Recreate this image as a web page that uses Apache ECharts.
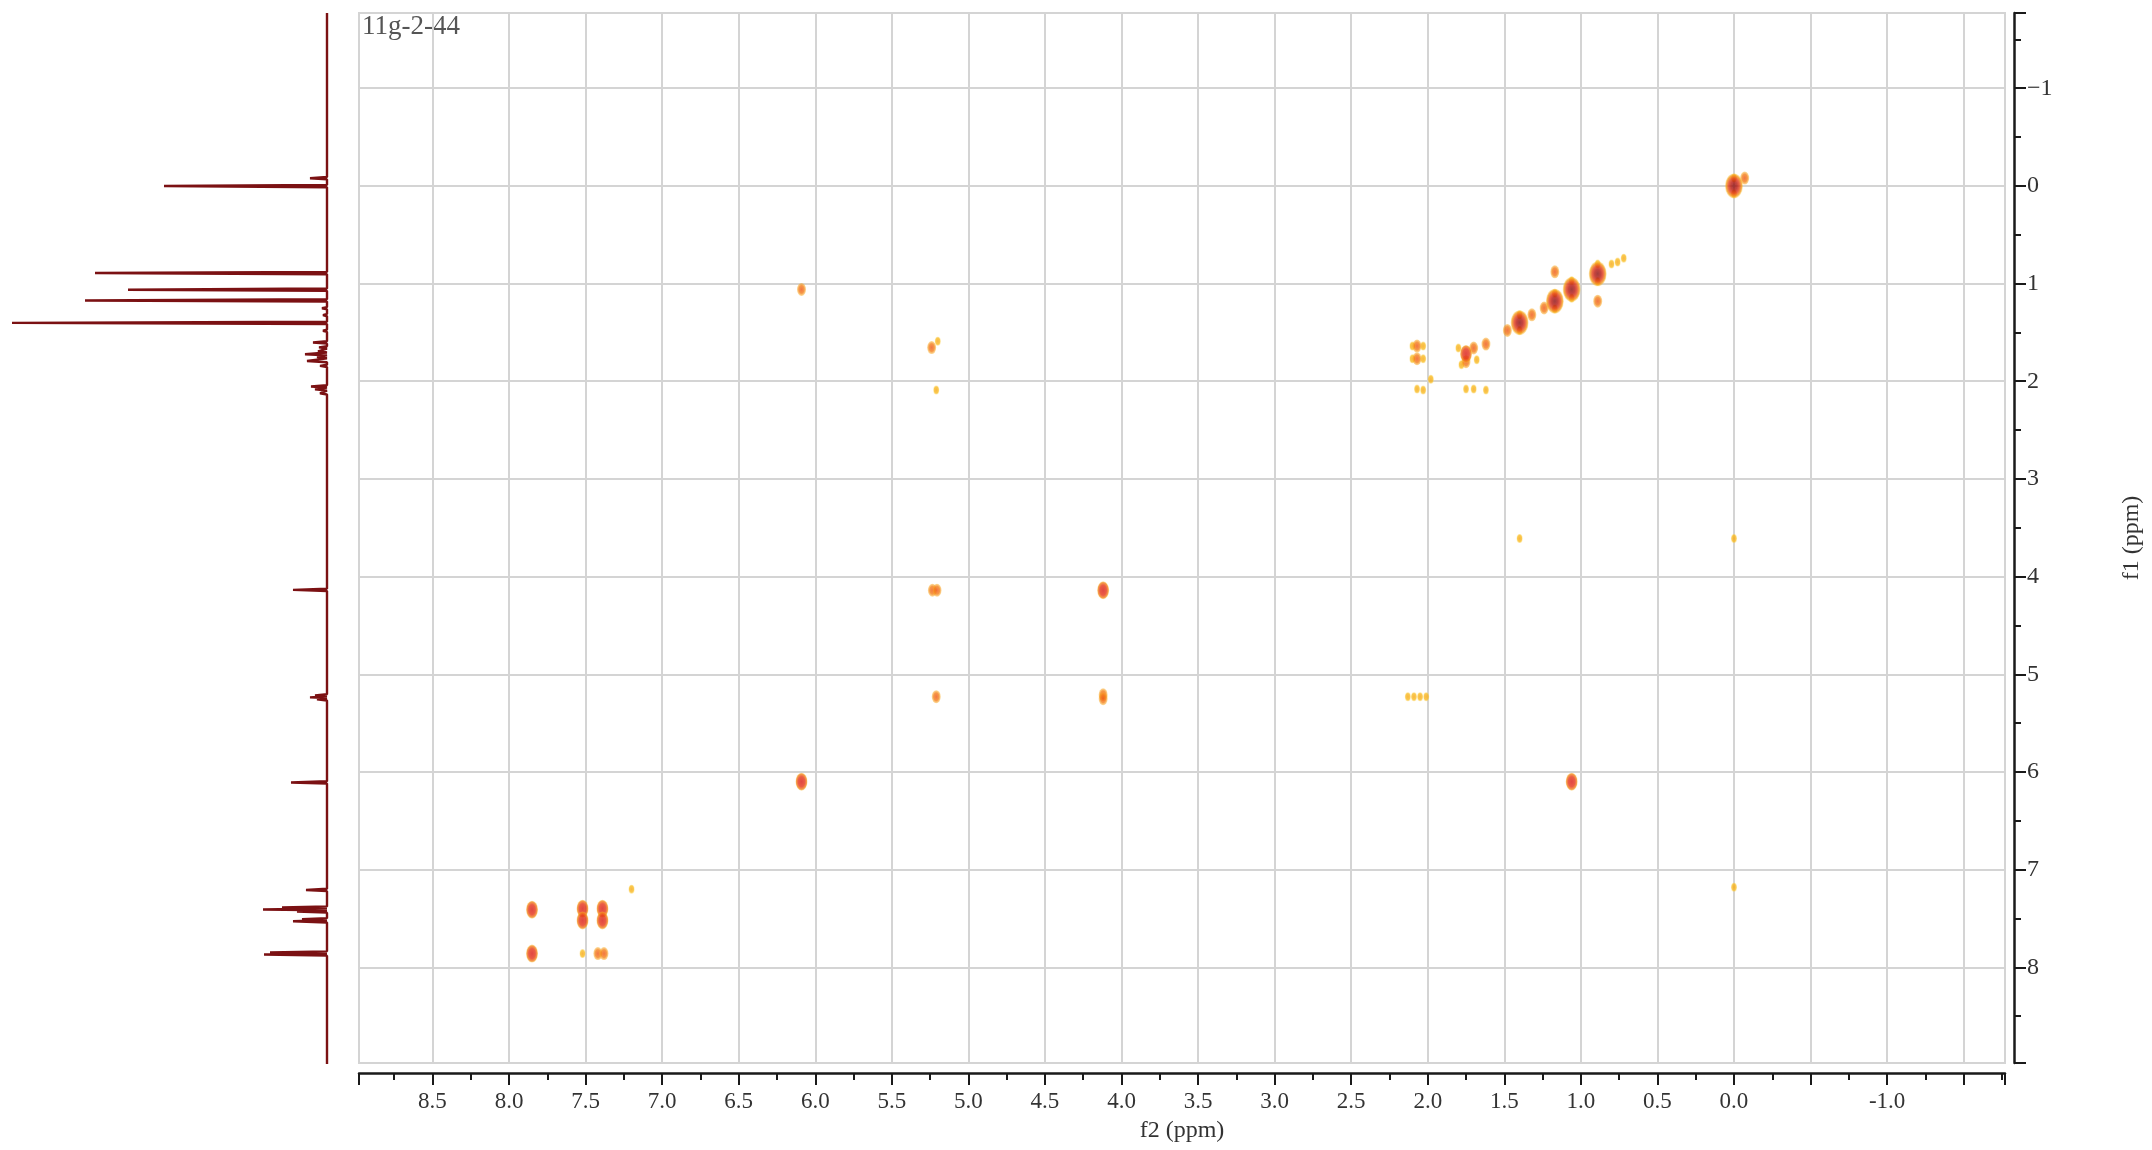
<!DOCTYPE html>
<html>
<head>
<meta charset="utf-8">
<title>11g-2-44 COSY</title>
<script src="https://cdn.jsdelivr.net/npm/echarts@6/dist/echarts.min.js"></script>
<style>
  html, body { margin: 0; padding: 0; background: #fff; }
  #cosy_charts { width: 2152px; height: 1150px; }
</style>
</head>
<body>
<div id="cosy_charts"></div>
<script>
// ppm window, same on f1 and f2
const ppmMin = -1.77;
const ppmMax = 8.98;

// 1H trace on the left: [ppm, height]
const protonPeaks = [
  [-0.08, 17], [0.00, 163], [0.89, 232], [1.06, 199], [1.17, 242], [1.25, 5],
  [1.32, 4], [1.40, 315], [1.48, 4], [1.60, 14], [1.65, 8], [1.69, 9],
  [1.72, 22], [1.75, 10], [1.79, 20], [1.84, 7], [2.05, 16], [2.08, 12],
  [2.12, 7], [4.13, 34], [5.21, 12], [5.23, 17], [5.25, 10], [6.10, 36],
  [7.20, 21], [7.38, 45], [7.40, 64], [7.42, 30], [7.50, 25], [7.52, 34],
  [7.84, 57], [7.86, 63]
];

// cross peaks [f2, f1], split by contour level
const peaksWeak = [
  [7.20, 7.20], [7.52, 7.86], [5.20, 1.59], [5.21, 2.09],
  [2.07, 2.08], [2.03, 2.09], [1.75, 2.08], [1.70, 2.08], [1.62, 2.09], [1.98, 1.98],
  [1.40, 3.61], [0.00, 3.61], [0.00, 7.18],
  [0.80, 0.80], [0.76, 0.78], [0.72, 0.74],
  [1.80, 1.66], [1.68, 1.78], [1.78, 1.83], [2.10, 1.64], [2.03, 1.64], [2.10, 1.77], [2.03, 1.77],
  [0.89, 0.80], [0.89, 0.98], [1.06, 1.15], [1.06, 0.97], [1.40, 1.32], [1.40, 1.48],
  [1.17, 1.26], [1.17, 1.10], [0.00, 0.08], [0.00, -0.08],
  [2.13, 5.23], [2.09, 5.23], [2.05, 5.23], [2.01, 5.23]
];
const peaksMedium = [
  [7.42, 7.86], [7.38, 7.86], [5.235, 4.14], [5.205, 4.14], [4.12, 5.21], [4.12, 5.25],
  [5.21, 5.23], [6.09, 1.06], [-0.07, -0.08],
  [1.32, 1.32], [1.48, 1.48], [1.24, 1.25], [1.17, 0.88], [0.89, 1.18],
  [2.07, 1.64], [2.07, 1.77], [1.62, 1.62], [1.75, 1.80], [1.70, 1.66], [5.24, 1.655]
];
const peaksStrong = [
  [7.85, 7.41], [7.85, 7.86], [7.39, 7.40], [7.39, 7.52], [7.52, 7.40], [7.52, 7.52],
  [6.09, 6.10], [4.12, 4.14], [1.75, 1.72], [1.06, 6.10]
];
const peaksDiagonal = [
  [0.00, 0.00], [0.89, 0.90], [1.06, 1.06], [1.17, 1.18], [1.40, 1.40]
];

const fontName = 'Liberation Serif';

function blob (stops) {
  return {
    type: 'radial', x: 0.5, y: 0.5, r: 0.5,
    colorStops: stops.map(s => ({ offset: s[0], color: s[1] }))
  };
}

// build the 1H trace as spikes off a zero baseline
function buildTrace () {
  const pts = [[0, ppmMin]];
  protonPeaks.forEach(([ppm, h]) => {
    pts.push([0, ppm - 0.012], [h, ppm], [0, ppm + 0.012]);
  });
  pts.push([0, ppmMax]);
  return pts.sort((a, b) => a[1] - b[1]);
}

function peakSeries (name, data, size, stops, z) {
  return {
    name: name,
    type: 'scatter',
    xAxisIndex: 0,
    yAxisIndex: 0,
    symbol: 'circle',
    symbolSize: size,
    z: z,
    itemStyle: { color: blob(stops) },
    data: data
  };
}

const chart = echarts.init(document.getElementById('cosy_charts'));

const option = {
  backgroundColor: '#fff',
  animation: false,
  textStyle: { fontFamily: fontName },
  graphic: [{
    type: 'text',
    left: 362,
    top: 13,
    style: { text: '11g-2-44', font: '27px "Liberation Serif"', fill: '#555' }
  }],
  grid: [
    { left: 359, right: 146, top: 13, bottom: 87, show: true, borderColor: '#d4d4d4', borderWidth: 2 },
    { left: 0, width: 327, top: 13, bottom: 86 }
  ],
  xAxis: [
    {
      type: 'value',
      gridIndex: 0,
      inverse: true,
      min: ppmMin,
      max: ppmMax,
      splitNumber: 21,
      offset: 10,
      name: 'f2 (ppm)',
      nameLocation: 'middle',
      nameGap: 46,
      nameTextStyle: { fontFamily: fontName, fontSize: 24, color: '#333' },
      axisLine: { onZero: false, lineStyle: { color: '#1a1a1a', width: 2.5 } },
      axisTick: { length: 12, lineStyle: { color: '#1a1a1a', width: 2 } },
      minorTick: { show: true, splitNumber: 2, length: 7, lineStyle: { color: '#1a1a1a', width: 2 } },
      axisLabel: {
        margin: 17,
        fontFamily: fontName,
        fontSize: 23,
        color: '#333',
        showMinLabel: false,
        showMaxLabel: false,
        formatter: v => {
          if (Math.abs(v * 2 - Math.round(v * 2)) > 1e-6) return '';
          if (Math.abs(v + 0.5) < 1e-6 || Math.abs(v + 1.5) < 1e-6) return '';
          return v.toFixed(1);
        }
      },
      splitLine: { show: true, lineStyle: { color: '#d4d4d4', width: 2 } }
    },
    { type: 'value', gridIndex: 1, inverse: true, min: 0, max: 327, show: false }
  ],
  yAxis: [
    {
      type: 'value',
      gridIndex: 0,
      position: 'right',
      inverse: true,
      min: ppmMin,
      max: ppmMax,
      splitNumber: 11,
      offset: 9,
      name: 'f1 (ppm)',
      nameLocation: 'middle',
      nameRotate: 90,
      nameGap: 106,
      nameTextStyle: { fontFamily: fontName, fontSize: 24, color: '#333' },
      axisLine: { show: true, onZero: false, lineStyle: { color: '#1a1a1a', width: 2.5 } },
      axisTick: { show: true, length: 12, lineStyle: { color: '#1a1a1a', width: 2 } },
      minorTick: { show: true, splitNumber: 2, length: 7, lineStyle: { color: '#1a1a1a', width: 2 } },
      axisLabel: {
        margin: 13,
        fontFamily: fontName,
        fontSize: 24,
        color: '#333',
        showMinLabel: false,
        showMaxLabel: false,
        formatter: v => {
          if (Math.abs(v - Math.round(v)) > 1e-6) return '';
          const n = Math.round(v);
          return n < 0 ? '\u2212' + Math.abs(n) : String(n);
        }
      },
      splitLine: { show: true, lineStyle: { color: '#d4d4d4', width: 2 } }
    },
    { type: 'value', gridIndex: 1, inverse: true, min: ppmMin, max: ppmMax, show: false }
  ],
  series: [
    {
      name: '1H',
      type: 'line',
      xAxisIndex: 1,
      yAxisIndex: 1,
      showSymbol: false,
      clip: false,
      lineStyle: { color: '#7b1113', width: 2.4 },
      data: buildTrace()
    },
    peakSeries('weak', peaksWeak, [6, 9],
      [[0, '#f6a414'], [0.7, '#f9bc22'], [1, 'rgba(252,205,70,0.5)']], 2),
    peakSeries('medium', peaksMedium, [9, 13],
      [[0, '#ee5416'], [0.6, '#f4801a'], [1, 'rgba(250,175,35,0.55)']], 3),
    peakSeries('strong', peaksStrong, [12, 18],
      [[0, '#d81a14'], [0.55, '#e63416'], [0.85, '#f3861c'], [1, 'rgba(250,185,45,0.5)']], 4),
    peakSeries('diagonal', peaksDiagonal, [18, 25],
      [[0, '#8c0c0c'], [0.35, '#b8160f'], [0.6, '#e43c18'], [0.85, '#f59a1b'], [1, 'rgba(250,195,55,0.4)']], 5)
  ]
};

chart.setOption(option);
window.addEventListener('resize', () => {
  chart.resize();
});
</script>
</body>
</html>
